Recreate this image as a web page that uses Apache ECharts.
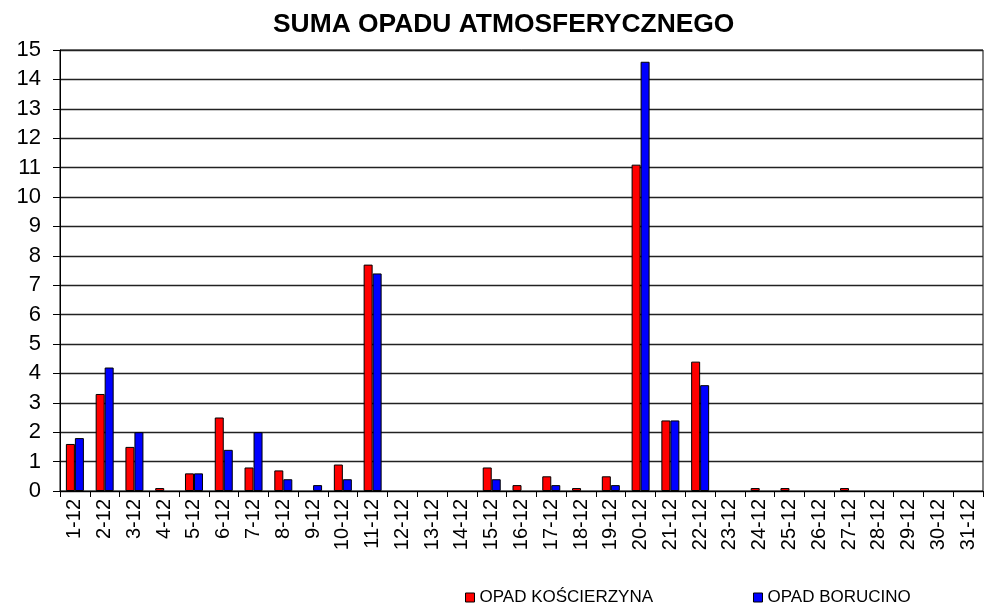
<!DOCTYPE html>
<html><head><meta charset="utf-8">
<script src="https://cdn.jsdelivr.net/npm/echarts@6/dist/echarts.min.js"></script>
<style>html,body{margin:0;padding:0;background:#fff}#c{width:985px;height:607px}</style>
</head><body><div id="c"></div>
<script>
const categories = ["1-12","2-12","3-12","4-12","5-12","6-12","7-12","8-12","9-12","10-12","11-12","12-12","13-12","14-12","15-12","16-12","17-12","18-12","19-12","20-12","21-12","22-12","23-12","24-12","25-12","26-12","27-12","28-12","29-12","30-12","31-12"];
const opadKoscierzyna = [1.6,3.3,1.5,0.1,0.6,2.5,0.8,0.7,0,0.9,7.7,0,0,0,0.8,0.2,0.5,0.1,0.5,11.1,2.4,4.4,0,0.1,0.1,0,0.1,0,0,0,0];
const opadBorucino = [1.8,4.2,2.0,0,0.6,1.4,2.0,0.4,0.2,0.4,7.4,0,0,0,0.4,0,0.2,0,0.2,14.6,2.4,3.6,0,0,0,0,0,0,0,0,0];
const seriesNames = ["OPAD KOŚCIERZYNA","OPAD BORUCINO"];
const titleText = "SUMA OPADU ATMOSFERYCZNEGO";

// zero values are not drawn as bars in the original chart
const toBarData = arr => arr.map(v => (v === 0 ? '-' : v));

const chart = echarts.init(document.getElementById('c'));
const font = 'Liberation Sans, Arial, sans-serif';
chart.setOption({
  animation:false,
  backgroundColor:'#fff',
  title:{text:titleText,left:268,top:7,textStyle:{fontFamily:font,fontSize:26.4,fontWeight:'bold',color:'#000'}},
  legend:{left:460,top:584,itemWidth:9,itemHeight:9,itemGap:100,icon:'rect',
    textStyle:{fontFamily:font,fontSize:17,color:'#000'},
    itemStyle:{borderColor:'#000',borderWidth:1}},
  grid:{left:60,right:2,top:50,bottom:116,show:true,borderColor:'#000',borderWidth:1,containLabel:false},
  xAxis:{type:'category',data:categories,
    axisLine:{lineStyle:{color:'#000',width:1}},
    axisTick:{show:true,alignWithLabel:false,length:6,lineStyle:{color:'#000'}},
    axisLabel:{rotate:90,interval:0,fontFamily:font,fontSize:20,color:'#000',margin:8}},
  yAxis:{type:'value',min:0,max:15,interval:1,
    axisLine:{show:true,lineStyle:{color:'#000'}},
    axisTick:{show:true,length:7,lineStyle:{color:'#000'}},
    axisLabel:{fontFamily:font,fontSize:22,color:'#000',margin:19},
    splitLine:{lineStyle:{color:'#222',width:1.4}}},
  series:[
    {name:seriesNames[0],type:'bar',data:toBarData(opadKoscierzyna),barWidth:9,barGap:'0%',
      itemStyle:{color:'#ff0000',borderColor:'#000',borderWidth:1}},
    {name:seriesNames[1],type:'bar',data:toBarData(opadBorucino),barWidth:9,barGap:'0%',
      itemStyle:{color:'#0000ff',borderColor:'#000',borderWidth:1}}
  ]
});
</script></body></html>
